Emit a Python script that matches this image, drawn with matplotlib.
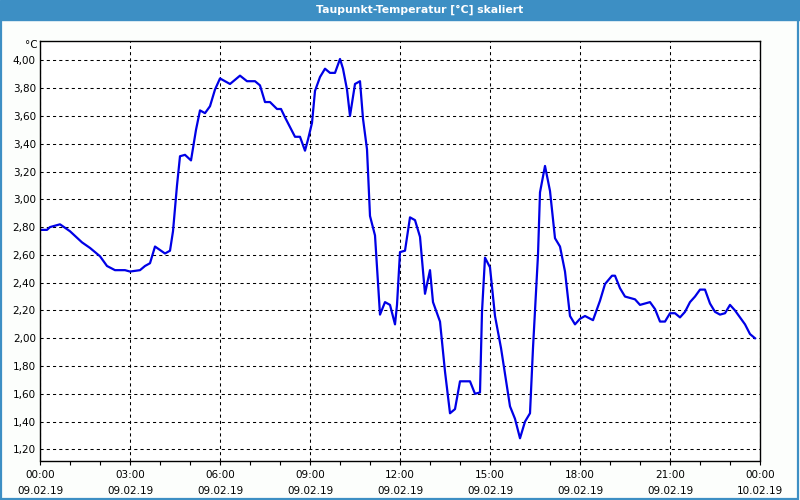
import matplotlib
matplotlib.use("Agg")
import matplotlib.pyplot as plt
from matplotlib.patches import Rectangle
from matplotlib.ticker import MultipleLocator, FuncFormatter

# ------------------------------
# Daten (Minuten seit 09.02.19 00:00, Taupunkt in °C)
# ------------------------------
minutes = [0, 14, 20, 40, 60, 84, 100, 120, 134, 150, 170, 180, 200, 210, 220,
           230, 250, 260, 266, 274, 280, 290, 302, 312, 320, 330, 340, 350, 360,
           380, 400, 414, 430, 440, 450, 460, 474, 482, 490, 500, 510, 520, 530,
           536, 544, 550, 560, 570, 580, 590, 600, 606, 614, 620, 630, 640, 646,
           654, 660, 670, 676, 680, 690, 700, 710, 714, 720, 730, 740, 750, 760,
           770, 780, 786, 800, 810, 820, 830, 840, 860, 870, 880, 884, 890, 900,
           910, 922, 940, 950, 960, 970, 980, 986, 996, 1000, 1010, 1020, 1030,
           1040, 1050, 1060, 1070, 1080, 1090, 1106, 1120, 1130, 1144, 1150, 1160,
           1170, 1190, 1200, 1220, 1230, 1240, 1250, 1260, 1270, 1280, 1290, 1300,
           1310, 1320, 1330, 1340, 1350, 1360, 1370, 1380, 1390, 1400, 1410, 1420,
           1430]
taupunkt = [2.78, 2.78, 2.80, 2.82, 2.77, 2.69, 2.65, 2.59, 2.52, 2.49, 2.49, 2.48,
            2.49, 2.52, 2.54, 2.66, 2.61, 2.63, 2.77, 3.10, 3.31, 3.32, 3.28, 3.50,
            3.64, 3.62, 3.67, 3.79, 3.87, 3.83, 3.89, 3.85, 3.85, 3.82, 3.70, 3.70,
            3.65, 3.65, 3.59, 3.52, 3.45, 3.45, 3.35, 3.43, 3.55, 3.78, 3.88, 3.94,
            3.91, 3.91, 4.01, 3.94, 3.79, 3.60, 3.83, 3.85, 3.58, 3.36, 2.88, 2.74,
            2.40, 2.17, 2.26, 2.24, 2.10, 2.24, 2.62, 2.63, 2.87, 2.85, 2.73, 2.32,
            2.49, 2.26, 2.12, 1.76, 1.46, 1.49, 1.69, 1.69, 1.60, 1.61, 2.19, 2.58,
            2.51, 2.16, 1.93, 1.51, 1.42, 1.28, 1.40, 1.46, 1.93, 2.60, 3.05, 3.24,
            3.06, 2.72, 2.66, 2.48, 2.16, 2.10, 2.14, 2.16, 2.13, 2.27, 2.39, 2.45,
            2.45, 2.36, 2.30, 2.28, 2.24, 2.26, 2.21, 2.12, 2.12, 2.18, 2.18, 2.15,
            2.19, 2.26, 2.30, 2.35, 2.35, 2.25, 2.19, 2.17, 2.18, 2.24, 2.20, 2.15,
            2.10, 2.03, 2.00]

x_tick_labels = ["00:00\n09.02.19", "03:00\n09.02.19", "06:00\n09.02.19",
                 "09:00\n09.02.19", "12:00\n09.02.19", "15:00\n09.02.19",
                 "18:00\n09.02.19", "21:00\n09.02.19", "00:00\n10.02.19"]

TITEL = "Taupunkt-Temperatur [°C] skaliert"
BLAU = "#3d8fc4"

# ------------------------------
# Figur
# ------------------------------
fig = plt.figure(figsize=(8, 5), dpi=100, facecolor="#fcfefc")

# Titelleiste + Rahmen
fig.patches.append(Rectangle((0, 0.96), 1, 0.04, transform=fig.transFigure,
                             color=BLAU, zorder=0))
fig.patches.append(Rectangle((0.0008, 0.003), 0.9972, 0.96, transform=fig.transFigure,
                             fill=False, edgecolor=BLAU, lw=1.6, zorder=0))
fig.text(0.525, 0.98, TITEL, color="white", fontsize=7.8, fontweight="bold",
         ha="center", va="center")

ax = fig.add_axes([0.05, 0.079, 0.90, 0.84])
ax.set_facecolor("white")
ax.plot(minutes, taupunkt, color="#0000e6", lw=1.6)

ax.set_xlim(0, 1440)
ax.set_ylim(1.12, 4.143)
ax.set_xticks(range(0, 1441, 180))
ax.set_xticklabels(x_tick_labels, fontsize=7.5, linespacing=1.85)
ax.xaxis.set_minor_locator(MultipleLocator(60))
ax.set_yticks([1.2 + 0.2 * i for i in range(15)])
ax.yaxis.set_major_formatter(FuncFormatter(lambda v, p: f"{v:.2f}".replace(".", ",")))
ax.tick_params(axis="y", length=0, pad=3, labelsize=7.5)
ax.tick_params(axis="x", which="both", length=3, width=0.8, pad=3.5, direction="out")

ax.grid(True, color="black", linestyle=(0, (3, 3)), linewidth=0.75)
for s in ax.spines.values():
    s.set_linewidth(1)
    s.set_color("black")

fig.text(0.047, 0.909, "°C", fontsize=7.5, ha="right", va="center")

fig.savefig("out.png", dpi=100, facecolor=fig.get_facecolor())
